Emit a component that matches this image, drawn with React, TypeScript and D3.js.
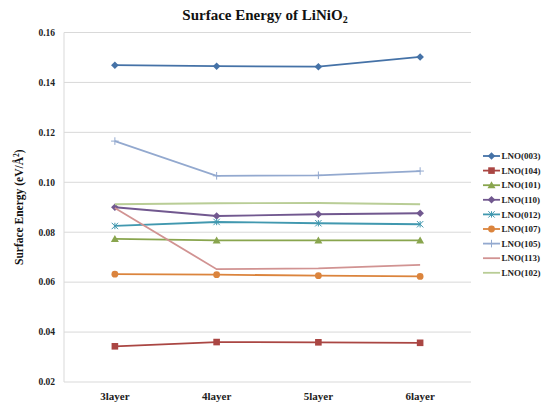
import React from "react";
import * as d3 from "d3";

const categories = ["3layer", "4layer", "5layer", "6layer"];
const seriesNames = ["LNO(003)", "LNO(104)", "LNO(101)", "LNO(110)", "LNO(012)", "LNO(107)", "LNO(105)", "LNO(113)", "LNO(102)"];
const v003 = [0.1469, 0.1465, 0.1463, 0.1502];
const v104 = [0.0343, 0.036, 0.0359, 0.0357];
const v101 = [0.0773, 0.0767, 0.0767, 0.0767];
const v110 = [0.09, 0.0865, 0.0872, 0.0876];
const v012 = [0.0825, 0.0841, 0.0836, 0.0832];
const v107 = [0.0632, 0.063, 0.0626, 0.0623];
const v105 = [0.1165, 0.1026, 0.1028, 0.1045];
const v113 = [0.0897, 0.0652, 0.0655, 0.0669];
const v102 = [0.0912, 0.0916, 0.0917, 0.0912];
const yTicks = [0.02, 0.04, 0.06, 0.08, 0.1, 0.12, 0.14, 0.16];

const seriesValues = [v003, v104, v101, v110, v012, v107, v105, v113, v102];
const colors = ["#4572A7", "#AA4643", "#89A54E", "#71588F", "#4198AF", "#DB843D", "#93A9CF", "#D19392", "#B9CD96"];
const markers = ["diamond", "square", "triangle", "diamond", "star", "circle", "plus", "none", "none"];

const W = 541, H = 405;
const left = 64, right = 471, top = 32.5, bottom = 382;
const font = "Liberation Serif, Times New Roman, serif";

function Marker({ type, x, y, color }: { type: string; x: number; y: number; color: string }) {
  if (type === "none") return null;
  if (type === "diamond") {
    const s = 3.8;
    return <path d={`M${x},${y - s}L${x + s},${y}L${x},${y + s}L${x - s},${y}Z`} fill={color} />;
  }
  if (type === "square") {
    const s = 3.3;
    return <rect x={x - s} y={y - s} width={2 * s} height={2 * s} fill={color} />;
  }
  if (type === "triangle") {
    const s = 4;
    return <path d={`M${x},${y - s}L${x + s},${y + s * 0.75}L${x - s},${y + s * 0.75}Z`} fill={color} />;
  }
  if (type === "circle") {
    return <circle cx={x} cy={y} r={3.4} fill={color} />;
  }
  if (type === "star") {
    const s = 3.2;
    return (
      <g stroke={color} strokeWidth={1}>
        <line x1={x - s} y1={y - s} x2={x + s} y2={y + s} />
        <line x1={x - s} y1={y + s} x2={x + s} y2={y - s} />
        <line x1={x} y1={y - s} x2={x} y2={y + s} />
      </g>
    );
  }
  if (type === "plus") {
    const s = 3.8;
    return (
      <g stroke={color} strokeWidth={1}>
        <line x1={x - s} y1={y} x2={x + s} y2={y} />
        <line x1={x} y1={y - s} x2={x} y2={y + s} />
      </g>
    );
  }
  return null;
}

export default function App() {
  const x = d3.scaleBand<string>().domain(categories).range([left, right]);
  const y = d3.scaleLinear().domain([0.02, 0.16]).range([bottom, top]);
  const cx = (c: string) => (x(c) as number) + x.bandwidth() / 2;
  const line = d3
    .line<number>()
    .x((_, i) => cx(categories[i]))
    .y((d) => y(d));

  return (
    <svg width={W} height={H} style={{ position: "absolute", left: 0, top: 0, background: "#fff", fontFamily: font }}>
      <rect width={W} height={H} fill="#fff" />
      {yTicks.map((t) => (
        <g key={t}>
          <line x1={left} x2={right} y1={y(t)} y2={y(t)} stroke="#D9D9D9" strokeWidth={1} />
          <text x={55} y={y(t)} dy="0.35em" textAnchor="end" fontSize={9.5} fontWeight="bold" fill="#222">
            {t.toFixed(2)}
          </text>
        </g>
      ))}
      <line x1={left} x2={left} y1={top} y2={bottom} stroke="#D9D9D9" strokeWidth={1} />
      {categories.map((c) => (
        <text key={c} x={cx(c)} y={396} dy="0.35em" textAnchor="middle" fontSize={11} fontWeight="bold" fill="#222">
          {c}
        </text>
      ))}
      <text x={265} y={15} dy="0.35em" textAnchor="middle" fontSize={15} fontWeight="bold" fill="#111">
        Surface Energy of LiNiO<tspan fontSize={10} dy="3">2</tspan>
      </text>
      <text
        transform={`translate(19,${(top + bottom) / 2}) rotate(-90)`}
        dy="0.35em"
        textAnchor="middle"
        fontSize={11.5}
        fontWeight="bold"
        fill="#111"
      >
        Surface Energy (eV/Å<tspan fontSize={7.5} dy="-4">2</tspan>
        <tspan dy="4">)</tspan>
      </text>
      {seriesValues.map((vals, si) => (
        <g key={seriesNames[si]}>
          <path d={line(vals) || ""} fill="none" stroke={colors[si]} strokeWidth={1.8} />
          {vals.map((v, i) => (
            <Marker key={i} type={markers[si]} x={cx(categories[i])} y={y(v)} color={colors[si]} />
          ))}
        </g>
      ))}
      {seriesNames.map((n, i) => {
        const ly = 156 + i * 14.6;
        return (
          <g key={n}>
            <line x1={483} x2={500} y1={ly} y2={ly} stroke={colors[i]} strokeWidth={1.8} />
            <Marker type={markers[i]} x={491.5} y={ly} color={colors[i]} />
            <text x={501.5} y={ly} dy="0.35em" fontSize={9} fontWeight="bold" fill="#222">
              {n}
            </text>
          </g>
        );
      })}
    </svg>
  );
}
